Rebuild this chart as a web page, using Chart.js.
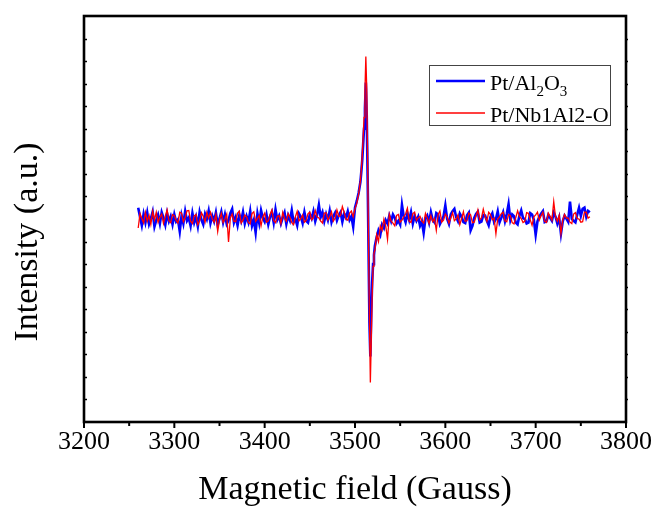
<!doctype html>
<html lang="en">
<head>
  <meta charset="utf-8">
  <title>EPR spectra</title>
  <script src="https://cdn.jsdelivr.net/npm/chart.js@4.4.0/dist/chart.umd.min.js"></script>
  <style>
    body { margin: 0; background: #fff; }
    #wrap { width: 657px; height: 511px; position: relative; }
  </style>
</head>
<body>
  <div id="wrap"><canvas id="epr"></canvas></div>

  <script>
    // magnetic field (Gauss), sampled finer around the signal
    var field = [
      3260, 3262, 3264, 3266, 3268, 3270, 3272, 3274, 3276, 3278,
      3280, 3282, 3284, 3286, 3288, 3290, 3292, 3294, 3296, 3298,
      3300, 3302, 3304, 3306, 3308, 3310, 3312, 3314, 3316, 3318,
      3320, 3322, 3324, 3326, 3328, 3330, 3332, 3334, 3336, 3338,
      3340, 3342, 3344, 3346, 3348, 3350, 3352, 3354, 3356, 3358,
      3360, 3362, 3364, 3366, 3368, 3370, 3372, 3374, 3376, 3378,
      3380, 3382, 3384, 3386, 3388, 3390, 3392, 3394, 3396, 3398,
      3400, 3402, 3404, 3406, 3408, 3410, 3412, 3414, 3416, 3418,
      3420, 3422, 3424, 3426, 3428, 3430, 3432, 3434, 3436, 3438,
      3440, 3442, 3444, 3446, 3448, 3450, 3452, 3454, 3456, 3458,
      3460, 3462, 3464, 3466, 3468, 3470, 3472, 3474, 3476, 3478,
      3480, 3482, 3484, 3486, 3488, 3490, 3492, 3494, 3496, 3498,
      3500, 3502, 3504, 3506, 3507, 3508, 3509, 3510, 3511, 3512,
      3513, 3514, 3515, 3516, 3517, 3518, 3519, 3520, 3521, 3522,
      3524, 3526, 3528, 3530, 3532, 3534, 3536, 3538, 3540, 3542,
      3544, 3546, 3548, 3550, 3552, 3554, 3556, 3558, 3560, 3562,
      3564, 3566, 3568, 3570, 3572, 3574, 3576, 3578, 3580, 3582,
      3584, 3586, 3588, 3590, 3592, 3594, 3596, 3598, 3600, 3602,
      3604, 3606, 3608, 3610, 3612, 3614, 3616, 3618, 3620, 3622,
      3624, 3626, 3628, 3630, 3632, 3634, 3636, 3638, 3640, 3642,
      3644, 3646, 3648, 3650, 3652, 3654, 3656, 3658, 3660, 3662,
      3664, 3666, 3668, 3670, 3672, 3674, 3676, 3678, 3680, 3682,
      3684, 3686, 3688, 3690, 3692, 3694, 3696, 3698, 3700, 3702,
      3704, 3706, 3708, 3710, 3712, 3714, 3716, 3718, 3720, 3722,
      3724, 3726, 3728, 3730, 3732, 3734, 3736, 3738, 3740, 3742,
      3744, 3746, 3748, 3750, 3752, 3754, 3756, 3758, 3760
    ];

    // Pt/Al2O3
    var ptAl2O3 = [
      9.50, 9.10, 8.72, 9.22, 8.85, 9.28, 8.78, 9.02, 9.32, 8.66,
      8.95, 9.18, 8.80, 9.30, 9.05, 8.74, 9.25, 8.90, 9.12, 8.76,
      9.20, 8.88, 8.98, 8.45, 9.15, 8.80, 9.34, 8.92, 9.06, 8.70,
      9.26, 8.84, 9.10, 8.68, 9.30, 8.96, 8.76, 9.22, 9.00, 9.36,
      8.82, 9.14, 8.90, 9.28, 8.74, 9.02, 9.32, 8.86, 9.20, 8.78,
      8.94, 9.26, 9.44, 8.84, 9.08, 8.72, 9.18, 8.92, 9.30, 8.80,
      9.12, 8.86, 9.34, 8.70, 8.96, 8.40, 9.24, 8.82, 9.38, 9.04,
      8.88, 9.20, 8.76, 9.10, 9.30, 8.84, 9.42, 8.96, 9.14, 8.80,
      9.06, 9.28, 8.78, 9.16, 8.94, 9.38, 8.86, 9.00, 8.72, 9.24,
      9.10, 8.82, 9.30, 8.92, 8.84, 9.20, 9.02, 9.34, 8.90, 9.18,
      9.62, 9.08, 9.30, 8.90, 9.22, 8.96, 9.36, 8.86, 9.12, 9.28,
      8.94, 9.16, 9.30, 8.88, 9.24, 9.06, 9.34, 8.96, 9.12, 8.66,
      9.50, 9.80, 10.15, 10.65, 11.10, 11.60, 12.30, 13.00, 13.90, 15.05,
      13.60, 10.80, 7.60, 4.40, 2.90, 4.80, 6.20, 7.00, 7.40, 7.80,
      8.20, 8.50, 8.30, 8.75, 8.60, 8.95, 8.80, 9.15, 8.90, 9.20,
      9.05, 8.80, 8.92, 8.75, 9.62, 9.10, 8.86, 9.25, 8.96, 9.30,
      8.80, 9.14, 8.92, 9.10, 8.70, 8.90, 8.39, 9.02, 9.15, 8.84,
      9.30, 8.96, 8.85, 9.26, 9.20, 8.78, 8.95, 9.12, 9.60, 9.00,
      8.78, 9.20, 9.35, 9.45, 9.08, 8.90, 9.24, 9.10, 8.86, 8.82,
      9.16, 9.28, 8.50, 8.70, 9.05, 9.22, 9.32, 8.84, 8.88, 9.18,
      9.15, 8.92, 8.72, 9.10, 9.25, 8.86, 9.00, 9.34, 8.85, 9.06,
      9.30, 8.90, 9.22, 9.66, 8.95, 9.20, 9.12, 8.84, 8.76, 9.14,
      9.38, 9.04, 9.00, 8.80, 8.84, 9.26, 9.20, 8.96, 8.30, 8.90,
      9.10, 9.24, 9.35, 8.86, 8.90, 9.18, 9.05, 8.92, 9.28, 9.10,
      8.80, 9.06, 8.35, 8.90, 9.15, 9.02, 8.88, 9.77, 9.00, 8.92,
      8.85, 9.20, 9.50, 9.14, 9.45, 9.50, 9.10, 9.36, 9.30
    ];

    // Pt/Nb1Al2-O
    var ptNb1Al2O = [
      8.60, 9.24, 9.02, 8.82, 9.30, 8.90, 9.16, 8.76, 9.34, 8.96,
      9.30, 8.86, 9.08, 9.22, 8.80, 9.12, 9.40, 8.92, 8.84, 9.20,
      9.15, 8.94, 8.82, 9.30, 9.26, 8.88, 9.05, 9.36, 9.38, 8.90,
      8.80, 9.14, 9.20, 8.74, 8.92, 9.28, 9.12, 8.86, 9.30, 9.04,
      9.30, 9.00, 8.86, 9.20, 8.45, 8.96, 9.25, 8.84, 9.00, 9.22,
      7.98, 9.04, 9.22, 8.90, 8.88, 9.26, 9.35, 8.82, 8.95, 9.18,
      9.10, 8.84, 8.78, 9.24, 9.32, 8.90, 9.02, 9.16, 8.70, 9.10,
      9.26, 8.86, 8.92, 9.20, 9.40, 8.94, 8.84, 9.12, 9.15, 8.80,
      9.30, 9.02, 8.90, 9.24, 9.08, 8.84, 8.75, 9.10, 9.34, 8.92,
      9.00, 9.18, 8.86, 8.94, 9.24, 9.30, 8.96, 9.06, 9.38, 9.10,
      9.05, 8.92, 8.82, 9.26, 9.28, 8.96, 9.10, 9.32, 8.90, 9.04,
      9.40, 9.12, 9.15, 9.55, 9.30, 9.00, 8.95, 9.26, 9.35, 9.10,
      9.45, 9.70, 10.10, 10.70, 11.20, 11.80, 12.60, 13.50, 14.70, 16.20,
      14.80, 11.50, 7.80, 4.50, 1.75, 3.60, 5.60, 6.90, 7.50, 7.60,
      8.30, 8.00, 8.70, 8.50, 9.00, 8.70, 8.10, 9.20, 8.90, 8.82,
      8.70, 9.16, 9.20, 8.86, 8.95, 9.10, 9.22, 9.48, 8.90, 8.85,
      9.24, 9.30, 8.94, 9.05, 9.12, 8.90, 8.82, 9.25, 9.04, 8.80,
      9.15, 8.88, 9.02, 8.50, 9.20, 9.35, 8.86, 8.95, 9.22, 9.10,
      8.82, 9.04, 9.28, 8.92, 9.00, 9.18, 8.75, 9.02, 9.32, 8.90,
      8.92, 9.26, 9.18, 8.84, 8.86, 9.12, 9.40, 8.96, 9.05, 9.43,
      9.10, 8.90, 9.30, 9.20, 8.96, 9.04, 8.35, 9.00, 9.10, 9.24,
      9.30, 8.92, 8.88, 9.20, 9.15, 8.84, 8.78, 9.06, 9.36, 9.12,
      9.02, 8.84, 8.90, 9.28, 9.25, 8.96, 8.72, 9.10, 9.18, 9.30,
      8.95, 9.14, 9.30, 8.90, 8.85, 9.26, 9.12, 8.94, 9.77, 9.08,
      8.90, 9.16, 8.35, 8.96, 9.20, 9.04, 9.05, 8.86, 8.80, 9.22,
      9.28, 9.02, 9.00, 8.86, 8.88, 9.30, 9.30, 9.04, 9.10
    ];

    var xTicks = [3200, 3300, 3400, 3500, 3600, 3700, 3800];
    var xMinorTicks = [3250, 3350, 3450, 3550, 3650, 3750];
    var yTickCount = 18;   // small unlabeled ticks on the intensity axis

    // legend text: _n means subscript
    var legendNames = ['Pt/Al_2O_3', 'Pt/Nb1Al2-O'];

    var SERIF = '"Liberation Serif", "Times New Roman", serif';

    function toPoints(ys) {
      return field.map(function (f, i) { return { x: f, y: ys[i] }; });
    }

    // frame, ticks, y title and legend (Origin style)
    var originDecor = {
      id: 'originDecor',
      afterDraw: function (chart) {
        var ctx = chart.ctx, a = chart.chartArea;
        var xs = chart.scales.x, ys = chart.scales.y;
        ctx.save();
        ctx.strokeStyle = '#000';

        // x ticks, outward
        ctx.lineWidth = 2;
        xTicks.forEach(function (v) {
          var px = xs.getPixelForValue(v);
          ctx.beginPath(); ctx.moveTo(px, a.bottom); ctx.lineTo(px, a.bottom + 6); ctx.stroke();
        });
        xMinorTicks.forEach(function (v) {
          var px = xs.getPixelForValue(v);
          ctx.beginPath(); ctx.moveTo(px, a.bottom); ctx.lineTo(px, a.bottom + 4); ctx.stroke();
        });

        // y ticks
        ctx.lineWidth = 1.5;
        for (var i = 1; i < yTickCount; i++) {
          var py = Math.round(ys.getPixelForValue(i)) + 0.5;
          ctx.beginPath(); ctx.moveTo(a.left, py); ctx.lineTo(a.left + 3, py); ctx.stroke();
          ctx.beginPath(); ctx.moveTo(a.right, py); ctx.lineTo(a.right + 2, py); ctx.stroke();
        }

        // frame
        ctx.lineWidth = 2.6;
        ctx.strokeRect(a.left, a.top, a.right - a.left, a.bottom - a.top);

        // y title
        ctx.fillStyle = '#000';
        ctx.font = '34px ' + SERIF;
        ctx.textAlign = 'center';
        ctx.textBaseline = 'middle';
        ctx.translate(28, 242);
        ctx.rotate(-Math.PI / 2);
        ctx.fillText('Intensity (a.u.)', 0, 0);
        ctx.restore();

        // legend
        ctx.save();
        ctx.strokeStyle = '#444';
        ctx.lineWidth = 1;
        ctx.strokeRect(429.5, 65.5, 181, 60);
        chart.data.datasets.forEach(function (ds, k) {
          var ly = k === 0 ? 81 : 113;
          var base = k === 0 ? 90 : 122;
          ctx.strokeStyle = ds.borderColor;
          ctx.lineWidth = ds.borderWidth;
          ctx.beginPath(); ctx.moveTo(436, ly); ctx.lineTo(485, ly); ctx.stroke();
          drawRichText(ctx, legendNames[k], 490, base);
        });
        ctx.restore();
      }
    };

    function drawRichText(ctx, txt, x, base) {
      ctx.fillStyle = '#000';
      ctx.textAlign = 'left';
      ctx.textBaseline = 'alphabetic';
      var parts = txt.split(/(_\d)/);
      parts.forEach(function (p) {
        if (!p) return;
        if (p.charAt(0) === '_') {
          ctx.font = '15px ' + SERIF;
          ctx.fillText(p.slice(1), x, base + 6);
          x += ctx.measureText(p.slice(1)).width;
        } else {
          ctx.font = '22px ' + SERIF;
          ctx.fillText(p, x, base);
          x += ctx.measureText(p).width;
        }
      });
    }

    new Chart(document.getElementById('epr'), {
      type: 'line',
      data: {
        datasets: [{
          label: 'Pt/Al2O3',
          data: toPoints(ptAl2O3),
          borderColor: '#0000ff',
          borderWidth: 2.6,
          pointRadius: 0,
          tension: 0,
          order: 1
        }, {
          label: 'Pt/Nb1Al2-O',
          data: toPoints(ptNb1Al2O),
          borderColor: '#ff0000',
          borderWidth: 1.3,
          pointRadius: 0,
          tension: 0,
          order: 0
        }]
      },
      options: {
        responsive: true,
        maintainAspectRatio: false,
        animation: false,
        layout: { padding: { top: 16, right: 31, left: 0, bottom: 0 } },
        plugins: {
          legend: { display: false },
          tooltip: { enabled: false }
        },
        scales: {
          x: {
            type: 'linear',
            min: 3200,
            max: 3800,
            afterFit: function (s) { s.height = 89; },
            grid: { display: false, drawTicks: false },
            border: { display: false },
            ticks: {
              stepSize: 100,
              padding: 5,
              color: '#000',
              maxRotation: 0,
              font: { family: SERIF, size: 26 },
              callback: function (v) { return String(v); }
            },
            title: {
              display: true,
              text: 'Magnetic field (Gauss)',
              color: '#000',
              font: { family: SERIF, size: 34 },
              padding: { top: 0, bottom: 1 }
            }
          },
          y: {
            min: 0,
            max: yTickCount,
            afterFit: function (s) { s.width = 84; },
            grid: { display: false, drawTicks: false },
            border: { display: false },
            ticks: { display: false }
          }
        }
      },
      plugins: [originDecor]
    });
  </script>
</body>
</html>
